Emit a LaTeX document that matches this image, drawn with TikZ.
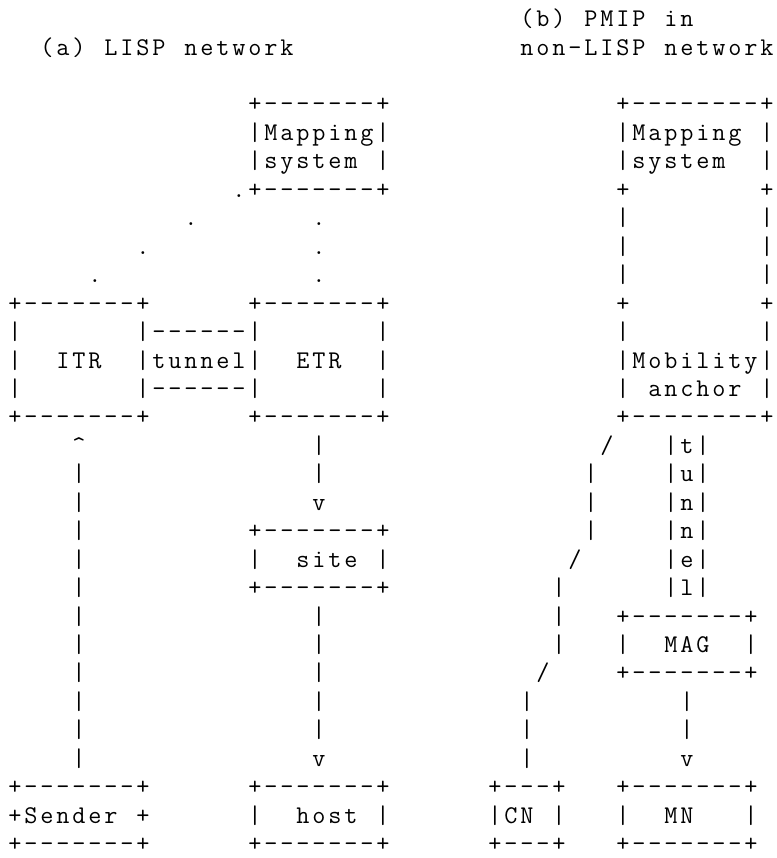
\documentclass[tikz,border=0pt]{standalone}
\makeatletter
\def\ascii@end{\ascii@end}
\newcommand\asciirow[1]{\ascii@loop#1\ascii@end}
\def\ascii@loop#1{\ifx#1\ascii@end\else\makebox[16pt][c]{\ifx#1~\else#1\fi}\expandafter\ascii@loop\fi}
\makeatother
\begin{document}
\begin{tikzpicture}[x=1pt,y=-1pt,
  rowtext/.style={anchor=base west, inner sep=0pt, outer sep=0pt,
    font=\ttfamily\fontsize{25.5}{28.5}\selectfont}]
\fill[white] (0,0) rectangle (776,858);
\useasboundingbox (0,0) rectangle (776,858);
\def\bl#1{26.6+28.45*#1}
\node[rowtext] (r0) at (7,{\bl{0}}) {\asciirow{~~~~~ ~~~~~ ~~~~~ ~~~~~ ~~~~~ ~~~~~ ~~ (b)~PMIP~in}};
\node[rowtext] (r1) at (7,{\bl{1}}) {\asciirow{~~(a)~LISP~network ~~~~~ ~~~~~ ~~~~ non-LISP~network}};
\node[rowtext] (r3) at (7,{\bl{3}}) {\asciirow{~~~~~ ~~~~~ ~~~~~ +-------+ ~~~~~ ~~~~~ ~~~~ +--------+}};
\node[rowtext] (r4) at (7,{\bl{4}}) {\asciirow{~~~~~ ~~~~~ ~~~~~ |Mapping| ~~~~~ ~~~~~ ~~~~ |Mapping~|}};
\node[rowtext] (r5) at (7,{\bl{5}}) {\asciirow{~~~~~ ~~~~~ ~~~~~ |system~| ~~~~~ ~~~~~ ~~~~ |system~~|}};
\node[rowtext] (r6) at (7,{\bl{6}}) {\asciirow{~~~~~ ~~~~~ ~~~~ .+-------+ ~~~~~ ~~~~~ ~~~~ +~~~~~~~~+}};
\node[rowtext] (r7) at (7,{\bl{7}}) {\asciirow{~~~~~ ~~~~~ ~ . ~~~~~ ~~ . ~~~~~ ~~~~~ ~~~~~ ~~~ |~~~~~~~~|}};
\node[rowtext] (r8) at (7,{\bl{8}}) {\asciirow{~~~~~ ~~~ . ~~~~~ ~~~~~ . ~~~~~ ~~~~~ ~~~~~ ~~~ |~~~~~~~~|}};
\node[rowtext] (r9) at (7,{\bl{9}}) {\asciirow{~~~~~ . ~~~~~ ~~~~~ ~~~ . ~~~~~ ~~~~~ ~~~~~ ~~~ |~~~~~~~~|}};
\node[rowtext] (r10) at (7,{\bl{10}}) {\asciirow{+-------+ ~~~~~ ~ +-------+ ~~~~~ ~~~~~ ~~~~ +~~~~~~~~+}};
\node[rowtext] (r11) at (7,{\bl{11}}) {\asciirow{|~~~~~~~|------|~~~~~~~| ~~~~~ ~~~~~ ~~~~ |~~~~~~~~|}};
\node[rowtext] (r12) at (7,{\bl{12}}) {\asciirow{|~~ITR~~|tunnel|~~ETR~~| ~~~~~ ~~~~~ ~~~~ |Mobility|}};
\node[rowtext] (r13) at (7,{\bl{13}}) {\asciirow{|~~~~~~~|------|~~~~~~~| ~~~~~ ~~~~~ ~~~~ |~anchor~|}};
\node[rowtext] (r14) at (7,{\bl{14}}) {\asciirow{+-------+~~~~~~+-------+ ~~~~~ ~~~~~ ~~~~ +--------+}};
\node[rowtext] (r15) at (7,{\bl{15}}) {\asciirow{~~~~ {\textasciicircum} ~~~~~ ~~~~~ ~~~~ | ~~~~~ ~~~~~ ~~~~~ ~~ / ~~~ |t|}};
\node[rowtext] (r16) at (7,{\bl{16}}) {\asciirow{~~~~ | ~~~~~ ~~~~~ ~~~~ | ~~~~~ ~~~~~ ~~~~~ ~ | ~~~~ |u|}};
\node[rowtext] (r17) at (7,{\bl{17}}) {\asciirow{~~~~ | ~~~~~ ~~~~~ ~~~~ v ~~~~~ ~~~~~ ~~~~~ ~ | ~~~~ |n|}};
\node[rowtext] (r18) at (7,{\bl{18}}) {\asciirow{~~~~ | ~~~~~ ~~~~~ +-------+ ~~~~~ ~~~~~ ~~ | ~~~~ |n|}};
\node[rowtext] (r19) at (7,{\bl{19}}) {\asciirow{~~~~ | ~~~~~ ~~~~~ |~~site~| ~~~~~ ~~~~~ ~ / ~~~~~ |e|}};
\node[rowtext] (r20) at (7,{\bl{20}}) {\asciirow{~~~~ | ~~~~~ ~~~~~ +-------+ ~~~~~ ~~~~~ | ~~~~~ ~ |l|}};
\node[rowtext] (r21) at (7,{\bl{21}}) {\asciirow{~~~~ | ~~~~~ ~~~~~ ~~~~ | ~~~~~ ~~~~~ ~~~~ | ~~~ +-------+}};
\node[rowtext] (r22) at (7,{\bl{22}}) {\asciirow{~~~~ | ~~~~~ ~~~~~ ~~~~ | ~~~~~ ~~~~~ ~~~~ | ~~~ |~~MAG~~|}};
\node[rowtext] (r23) at (7,{\bl{23}}) {\asciirow{~~~~ | ~~~~~ ~~~~~ ~~~~ | ~~~~~ ~~~~~ ~~~ / ~~~~ +-------+}};
\node[rowtext] (r24) at (7,{\bl{24}}) {\asciirow{~~~~ | ~~~~~ ~~~~~ ~~~~ | ~~~~~ ~~~~~ ~~ | ~~~~~ ~~~~ |}};
\node[rowtext] (r25) at (7,{\bl{25}}) {\asciirow{~~~~ | ~~~~~ ~~~~~ ~~~~ | ~~~~~ ~~~~~ ~~ | ~~~~~ ~~~~ |}};
\node[rowtext] (r26) at (7,{\bl{26}}) {\asciirow{~~~~ | ~~~~~ ~~~~~ ~~~~ v ~~~~~ ~~~~~ ~~ | ~~~~~ ~~~~ v}};
\node[rowtext] (r27) at (7,{\bl{27}}) {\asciirow{+-------+ ~~~~~ ~ +-------+ ~~~~~ ~ +---+ ~~~ +-------+}};
\node[rowtext] (r28) at (7,{\bl{28}}) {\asciirow{+Sender~+ ~~~~~ ~ |~~host~| ~~~~~ ~ |CN~| ~~~ |~~MN~~~|}};
\node[rowtext] (r29) at (7,{\bl{29}}) {\asciirow{+-------+ ~~~~~ ~ +-------+ ~~~~~ ~ +---+ ~~~ +-------+}};
\end{tikzpicture}
\end{document}
